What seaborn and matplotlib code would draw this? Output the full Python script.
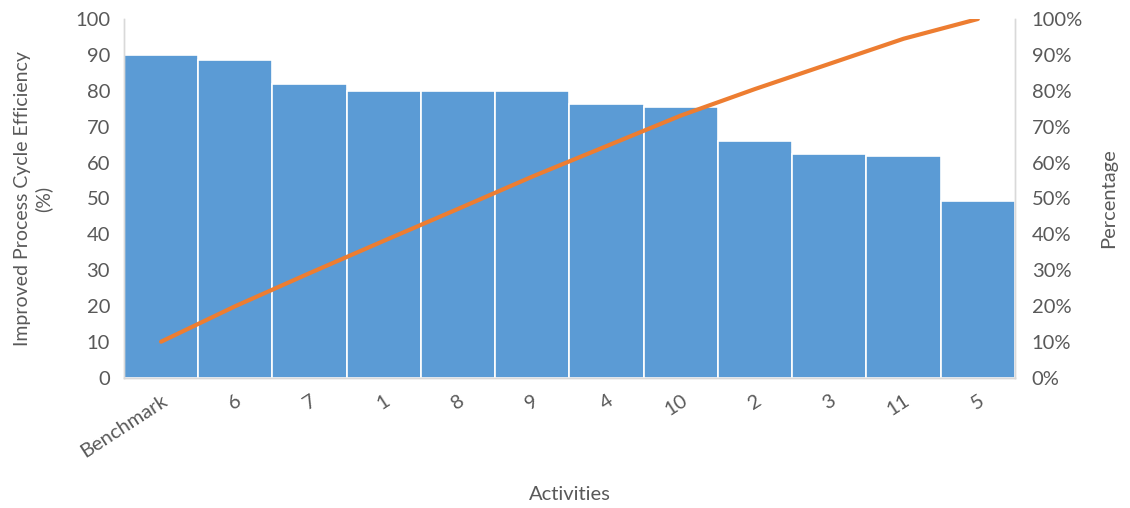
import matplotlib
matplotlib.use("Agg")
import matplotlib.pyplot as plt
import matplotlib.ticker as mticker
import pandas as pd
import seaborn as sns

# values
activities = ["Benchmark", "6", "7", "1", "8", "9", "4", "10", "2", "3", "11", "5"]
efficiency = [90, 88.5, 82, 80, 80, 80, 76.3, 75.4, 66, 62.3, 61.8, 49.4]
cumulative_pct = [0.101, 0.200, 0.292, 0.382, 0.471, 0.561, 0.646, 0.731, 0.805, 0.875, 0.945, 1.0]

BAR = "#5B9BD5"
LINE = "#ED7D31"
TXT = "#595959"
SPINE = "#D9D9D9"

sns.set_theme(style="white")
plt.rcParams["font.family"] = ["Lato", "DejaVu Sans"]

df = pd.DataFrame({"activity": activities, "eff": efficiency, "cum": cumulative_pct})

fig = plt.figure(figsize=(11.3, 5.08), dpi=100)
ax = fig.add_axes([0.1097, 0.256, 0.7885, 0.7066])

sns.barplot(data=df, x="activity", y="eff", color=BAR, saturation=1, width=1.0,
            edgecolor="white", linewidth=1.2, ax=ax)
ax.set_xlim(-0.5, 11.5)
ax.set_ylim(0, 100)
ax.set_yticks(range(0, 101, 10))

ax2 = ax.twinx()
sns.lineplot(data=df, x="activity", y="cum", color=LINE, linewidth=3,
             solid_capstyle="round", ax=ax2)
ax2.set_ylim(0, 1)
ax2.set_yticks([i / 10 for i in range(11)])
ax2.yaxis.set_major_formatter(mticker.PercentFormatter(1.0, decimals=0))

for a in (ax, ax2):
    a.spines["top"].set_visible(False)
    for s in ("left", "right", "bottom"):
        a.spines[s].set_color(SPINE)
        a.spines[s].set_linewidth(1)
    a.tick_params(length=0, colors=TXT, labelsize=14.5)

ax.tick_params(axis="y", pad=10)
ax2.tick_params(axis="y", pad=12)
ax.tick_params(axis="x", pad=10)
for lab in ax.get_xticklabels():
    lab.set_rotation(33)
    lab.set_ha("right")
    lab.set_rotation_mode("anchor")

ax.set_xlabel("Activities", color=TXT, fontsize=14.5)
ax.xaxis.set_label_coords(0.5, -0.325)
ax.xaxis.label.set_va("center")
ax.set_ylabel("Improved Process Cycle Efficiency\n(%)", color=TXT, fontsize=14)
ax.yaxis.set_label_coords(-0.102, 0.5)
ax.yaxis.label.set_va("center")
ax2.set_ylabel("Percentage", color=TXT, fontsize=14.5)
ax2.yaxis.set_label_coords(1.105, 0.5)
ax2.yaxis.label.set_va("center")
ax2.set_xlabel("")

fig.savefig("out.png", dpi=100)
